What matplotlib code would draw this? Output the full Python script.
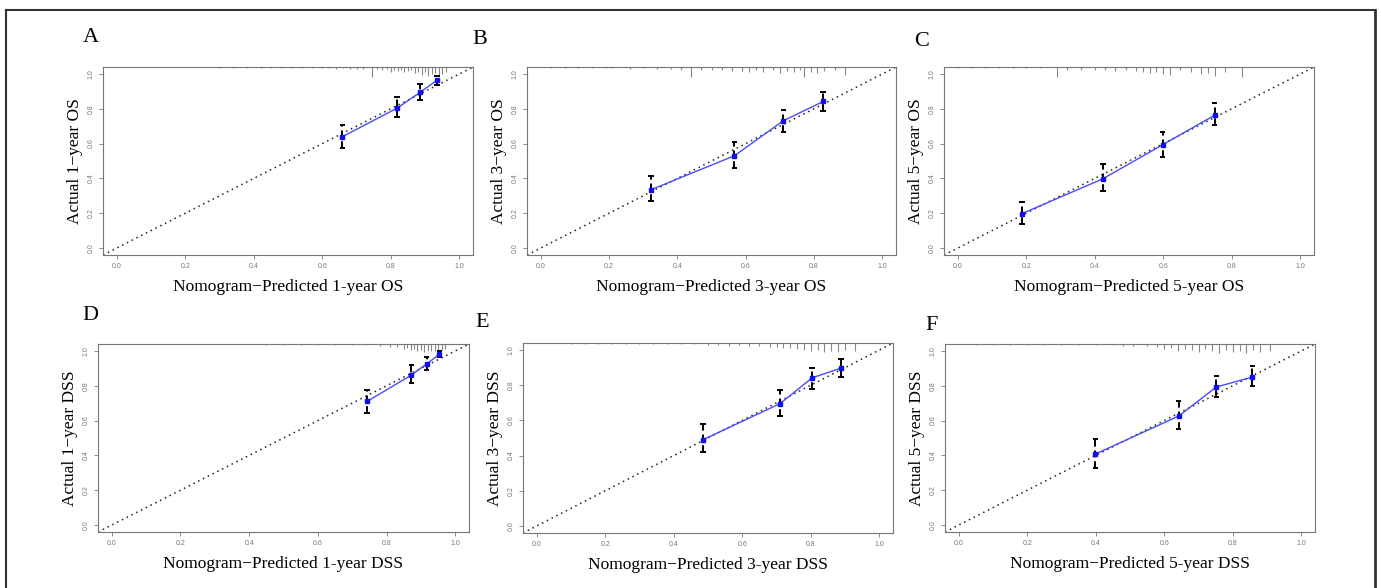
import matplotlib
matplotlib.use("Agg")
import matplotlib.pyplot as plt
from matplotlib.lines import Line2D

matplotlib.rcParams.update({
    'font.family': 'Liberation Serif',
})

# ---- data ----
letters = ['A', 'B', 'C', 'D', 'E', 'F']
xlabels = ['Nomogram\u2212Predicted 1-year OS', 'Nomogram\u2212Predicted 3-year OS',
           'Nomogram\u2212Predicted 5-year OS', 'Nomogram\u2212Predicted 1-year DSS',
           'Nomogram\u2212Predicted 3-year DSS', 'Nomogram\u2212Predicted 5-year DSS']
ylabels = ['Actual 1\u2212year OS', 'Actual 3\u2212year OS', 'Actual 5\u2212year OS',
           'Actual 1\u2212year DSS', 'Actual 3\u2212year DSS', 'Actual 5\u2212year DSS']

pred_A = [0.659, 0.818, 0.886, 0.935]
obs_A = [0.640, 0.803, 0.895, 0.964]
hi_A = [0.707, 0.866, 0.941, 0.989]
lo_A = [0.574, 0.751, 0.851, 0.937]

pred_B = [0.323, 0.567, 0.710, 0.827]
obs_B = [0.335, 0.530, 0.731, 0.842]
hi_B = [0.411, 0.607, 0.792, 0.898]
lo_B = [0.268, 0.457, 0.664, 0.790]

pred_C = [0.187, 0.424, 0.598, 0.750]
obs_C = [0.197, 0.398, 0.593, 0.763]
hi_C = [0.266, 0.484, 0.667, 0.834]
lo_C = [0.138, 0.329, 0.524, 0.706]

pred_D = [0.743, 0.872, 0.917, 0.954]
obs_D = [0.710, 0.861, 0.926, 0.981]
hi_D = [0.778, 0.917, 0.964, 0.998]
lo_D = [0.645, 0.815, 0.892, 0.964]

pred_E = [0.485, 0.710, 0.804, 0.888]
obs_E = [0.490, 0.695, 0.842, 0.897]
hi_E = [0.581, 0.771, 0.897, 0.947]
lo_E = [0.423, 0.625, 0.781, 0.848]

pred_F = [0.399, 0.642, 0.752, 0.857]
obs_F = [0.408, 0.626, 0.793, 0.850]
hi_F = [0.493, 0.712, 0.858, 0.911]
lo_F = [0.330, 0.554, 0.735, 0.797]

# distribution spikes along the top (position, length)
rug_A_x = [0.30, 0.34, 0.38, 0.42, 0.45, 0.48, 0.51, 0.54, 0.57, 0.60, 0.62, 0.64, 0.66, 0.68,
           0.70, 0.72, 0.746, 0.76, 0.775, 0.79, 0.80, 0.81, 0.82, 0.83, 0.84, 0.85, 0.86,
           0.87, 0.88, 0.89, 0.90, 0.91, 0.92, 0.93, 0.94, 0.95, 0.96]
rug_A_h = [0.003, 0.004, 0.003, 0.004, 0.005, 0.004, 0.005, 0.006, 0.005, 0.008, 0.006, 0.010, 0.008, 0.012,
           0.010, 0.014, 0.057, 0.012, 0.016, 0.010, 0.028, 0.018, 0.022, 0.015, 0.030, 0.025, 0.020,
           0.035, 0.028, 0.045, 0.030, 0.050, 0.040, 0.035, 0.048, 0.040, 0.030]
rug_B_x = [0.03, 0.07, 0.11, 0.15, 0.19, 0.21, 0.26, 0.30, 0.34, 0.38, 0.41, 0.44, 0.47, 0.50,
           0.53, 0.56, 0.59, 0.61, 0.63, 0.65, 0.68, 0.70, 0.72, 0.74, 0.76, 0.77, 0.79, 0.81,
           0.83, 0.86, 0.89]
rug_B_h = [0.003, 0.004, 0.005, 0.004, 0.008, 0.006, 0.010, 0.008, 0.012, 0.010, 0.020, 0.055, 0.015, 0.020,
           0.018, 0.025, 0.022, 0.030, 0.015, 0.028, 0.020, 0.032, 0.025, 0.030, 0.020, 0.055, 0.030,
           0.035, 0.025, 0.020, 0.045]
rug_C_x = [0.00, 0.04, 0.08, 0.12, 0.16, 0.20, 0.24, 0.29, 0.32, 0.36, 0.40, 0.43, 0.46, 0.49,
           0.52, 0.54, 0.56, 0.58, 0.60, 0.62, 0.65, 0.68, 0.71, 0.73, 0.75, 0.78, 0.83]
rug_C_h = [0.003, 0.004, 0.005, 0.006, 0.005, 0.006, 0.008, 0.055, 0.015, 0.018, 0.020, 0.015, 0.025, 0.020,
           0.025, 0.030, 0.035, 0.030, 0.040, 0.045, 0.020, 0.030, 0.040, 0.035, 0.050, 0.030, 0.055]
rug_D_x = [0.40, 0.45, 0.50, 0.55, 0.60, 0.65, 0.70, 0.74, 0.78, 0.81, 0.83, 0.85, 0.86, 0.87,
           0.88, 0.89, 0.90, 0.91, 0.92, 0.93, 0.94, 0.95, 0.96, 0.97]
rug_D_h = [0.002, 0.003, 0.003, 0.004, 0.004, 0.005, 0.006, 0.008, 0.010, 0.015, 0.020, 0.030, 0.025, 0.035,
           0.030, 0.040, 0.035, 0.045, 0.038, 0.042, 0.040, 0.045, 0.035, 0.030]
rug_E_x = [0.10, 0.14, 0.18, 0.22, 0.26, 0.30, 0.34, 0.38, 0.42, 0.46, 0.50, 0.53, 0.56, 0.59,
           0.62, 0.65, 0.68, 0.70, 0.72, 0.74, 0.76, 0.78, 0.80, 0.82, 0.84, 0.86, 0.88, 0.90, 0.93]
rug_E_h = [0.003, 0.003, 0.004, 0.004, 0.005, 0.005, 0.006, 0.006, 0.008, 0.008, 0.010, 0.012, 0.015, 0.012,
           0.015, 0.018, 0.020, 0.025, 0.030, 0.028, 0.035, 0.040, 0.045, 0.040, 0.050, 0.045, 0.050, 0.040, 0.045]
rug_F_x = [0.05, 0.10, 0.15, 0.20, 0.25, 0.30, 0.35, 0.40, 0.45, 0.48, 0.51, 0.55, 0.58, 0.60,
           0.62, 0.64, 0.66, 0.68, 0.70, 0.72, 0.74, 0.76, 0.78, 0.80, 0.82, 0.84, 0.86, 0.88, 0.91]
rug_F_h = [0.003, 0.003, 0.004, 0.004, 0.005, 0.005, 0.006, 0.008, 0.008, 0.010, 0.010, 0.012, 0.015, 0.030,
           0.025, 0.040, 0.030, 0.035, 0.045, 0.030, 0.040, 0.050, 0.035, 0.045, 0.040, 0.050, 0.035, 0.045, 0.040]

panels = [
    (pred_A, obs_A, hi_A, lo_A, rug_A_x, rug_A_h),
    (pred_B, obs_B, hi_B, lo_B, rug_B_x, rug_B_h),
    (pred_C, obs_C, hi_C, lo_C, rug_C_x, rug_C_h),
    (pred_D, obs_D, hi_D, lo_D, rug_D_x, rug_D_h),
    (pred_E, obs_E, hi_E, lo_E, rug_E_x, rug_E_h),
    (pred_F, obs_F, hi_F, lo_F, rug_F_x, rug_F_h),
]

# axes boxes in pixels: left, right, top, bottom
W, H = 1381, 588
boxes = [(103, 473, 67, 255), (527, 896, 67, 255), (944, 1314, 67, 255),
         (98, 469, 344, 532), (523, 893, 343, 533), (945, 1315, 344, 532)]
letter_pos = [(91, 37), (480, 40), (922, 41), (90, 316), (482, 322), (932, 325)]
grey = '#777777'

fig = plt.figure(figsize=(W / 100, H / 100), dpi=100)

for i, (pred, obs, hi, lo, rx, rh) in enumerate(panels):
    l, r, t, b = boxes[i]
    ax = fig.add_axes([l / W, 1 - b / H, (r - l) / W, (b - t) / H])
    ax.set_xlim(-0.04, 1.04)
    ax.set_ylim(-0.04, 1.04)

    ax.axline((0, 0), slope=1, color='#222222', lw=1.1, linestyle=(0, (1, 2.5)))
    top = ax.get_ylim()[1]
    ax.vlines(rx, [top - h for h in rh], top, color='#888888', lw=0.8)

    ax.vlines(pred, lo, hi, color='black', lw=1.4, linestyles=(0, (3.5, 2)))
    cap = 0.008
    ax.hlines(hi, [p - cap for p in pred], [p + cap for p in pred], color='black', lw=1.4)
    ax.hlines(lo, [p - cap for p in pred], [p + cap for p in pred], color='black', lw=1.4)
    ax.plot(pred, obs, color='#4a4aff', lw=1.0, marker='s', ms=3,
            markerfacecolor='#1010ee', markeredgecolor='#1010ee')

    ax.set_xticks([0, 0.2, 0.4, 0.6, 0.8, 1.0])
    ax.set_yticks([0, 0.2, 0.4, 0.6, 0.8, 1.0])
    ax.set_xticklabels(['0.0', '0.2', '0.4', '0.6', '0.8', '1.0'], family='Liberation Sans')
    ax.set_yticklabels(['0.0', '0.2', '0.4', '0.6', '0.8', '1.0'], family='Liberation Sans',
                       rotation=90, va='center')
    ax.tick_params(labelsize=5, colors=grey, length=3, width=0.6, pad=3)
    for s in ax.spines.values():
        s.set_color(grey)
        s.set_linewidth(0.8)

    ax.set_xlabel(xlabels[i], fontsize=12.5)
    ax.set_ylabel(ylabels[i], fontsize=12.5)
    ax.xaxis.set_label_coords(0.5, -32 / (b - t), transform=ax.transAxes)
    ax.yaxis.set_label_coords(-28 / (r - l), 0.5, transform=ax.transAxes)
    ax.xaxis.label.set_va('center')
    ax.yaxis.label.set_va('center')

    lx, ly = letter_pos[i]
    fig.text(lx / W, 1 - ly / H, letters[i], fontsize=16, ha='center', va='center')

# outer frame (open at the bottom)
fig.add_artist(Line2D([6 / W, 6 / W], [0, 1 - 10 / H], color='#333333', lw=1.5))
fig.add_artist(Line2D([6 / W, 1375 / W], [1 - 10 / H, 1 - 10 / H], color='#333333', lw=1.5))
fig.add_artist(Line2D([1375 / W, 1375 / W], [0, 1 - 10 / H], color='#333333', lw=2.0))

fig.savefig('out.png', dpi=100)
